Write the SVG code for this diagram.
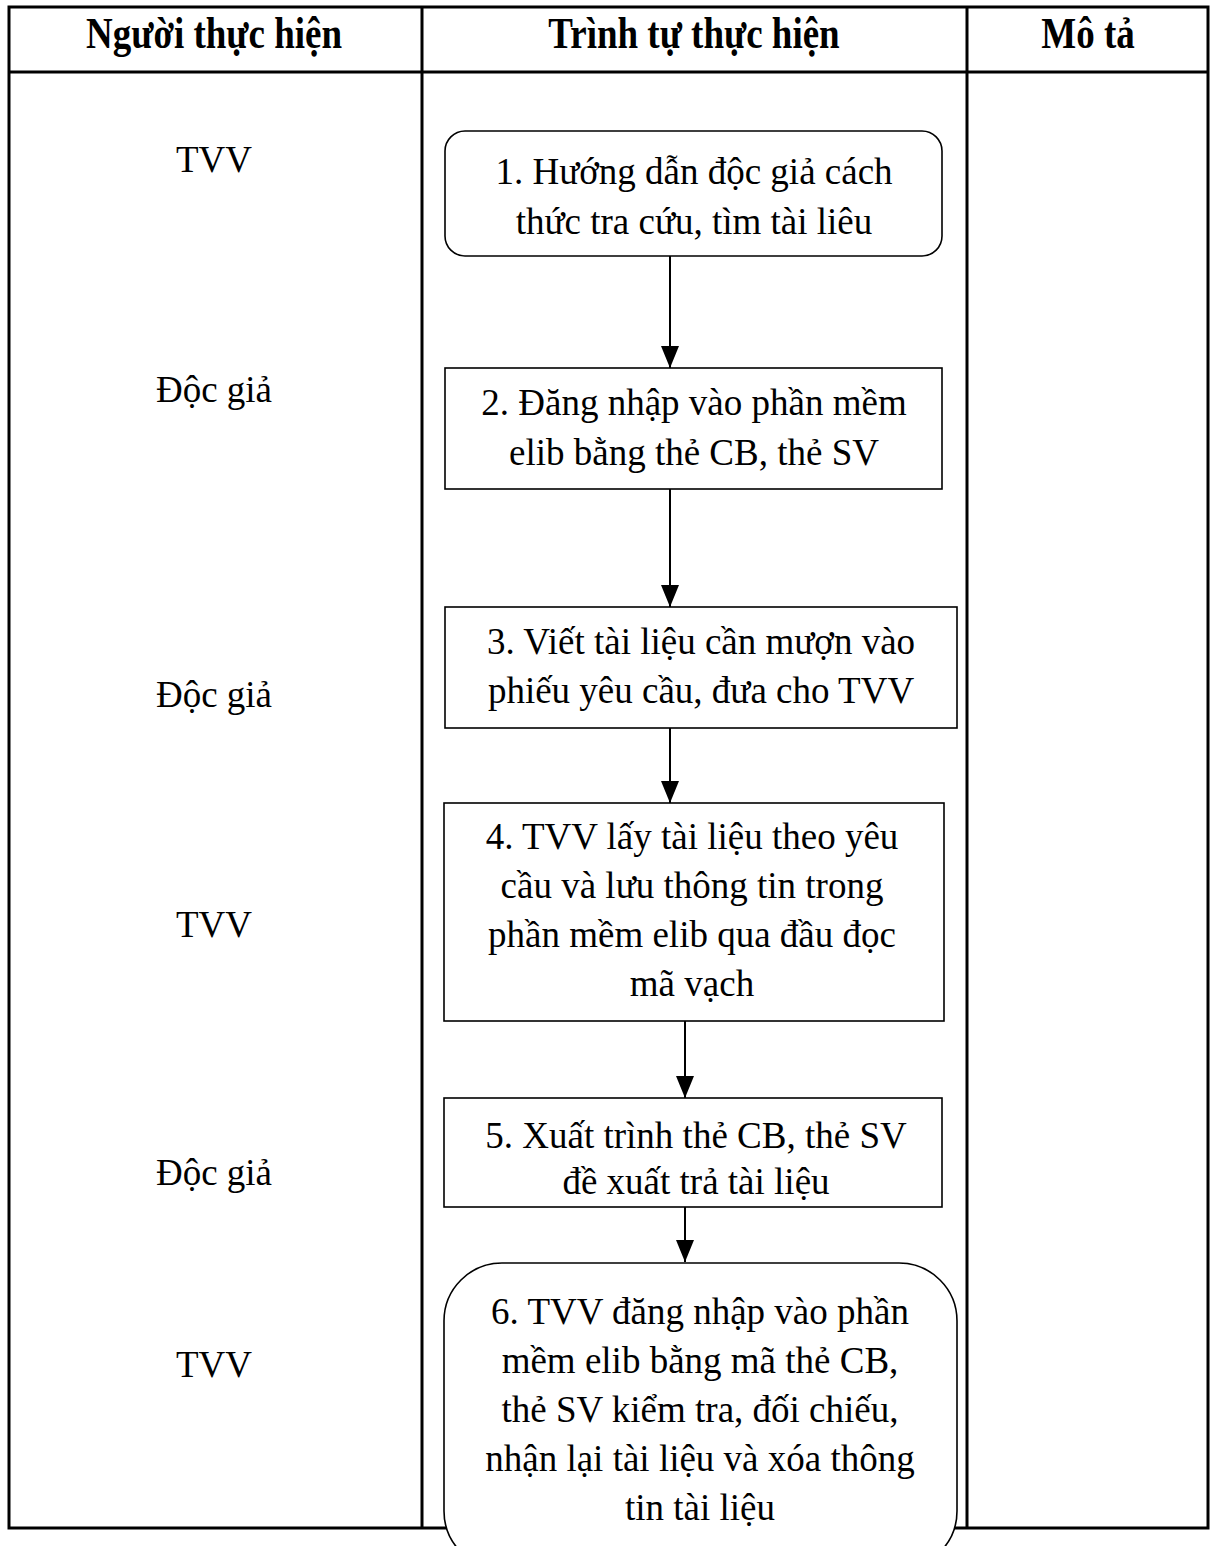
<svg xmlns="http://www.w3.org/2000/svg" width="1218" height="1546" viewBox="0 0 1218 1546">
<defs>
<style>
.t{font-family:"Liberation Serif","Times New Roman",serif;font-size:37px;fill:#000;text-anchor:middle}
.h{font-family:"Liberation Serif","Times New Roman",serif;font-size:37px;font-weight:bold;fill:#000;text-anchor:middle}
.grid{stroke:#000;stroke-width:3;fill:none}
.box{fill:#fff;stroke:#000;stroke-width:1.6}
.conn{stroke:#000;stroke-width:2;fill:none}
</style>
<marker id="ah" markerUnits="userSpaceOnUse" markerWidth="22" markerHeight="18" refX="22" refY="9" orient="auto" viewBox="0 0 22 18">
<path d="M0,0 L22,9 L0,18 Z" fill="#000"/>
</marker>
</defs>
<rect width="1218" height="1546" fill="#fff"/>
<g id="table">
<rect class="grid" x="9" y="7" width="1199" height="1521"/>
<line class="grid" x1="9" y1="72" x2="1208" y2="72"/>
<line class="grid" x1="422" y1="7" x2="422" y2="1528"/>
<line class="grid" x1="967" y1="7" x2="967" y2="1528"/>
<text class="h" transform="translate(214,48) scale(1,1.2)">Người thực hiện</text>
<text class="h" transform="translate(694,48) scale(1,1.2)">Trình tự thực hiện</text>
<text class="h" transform="translate(1088,48) scale(1,1.2)">Mô tả</text>
</g>
<g id="actors">
<text class="t" x="214" y="172">TVV</text>
<text class="t" x="214" y="402">Độc giả</text>
<text class="t" x="214" y="707">Độc giả</text>
<text class="t" x="214" y="937">TVV</text>
<text class="t" x="214" y="1185">Độc giả</text>
<text class="t" x="214" y="1377">TVV</text>
</g>
<g id="connectors">
<line class="conn" x1="670" y1="256" x2="670" y2="368" marker-end="url(#ah)"/>
<line class="conn" x1="670" y1="489" x2="670" y2="607" marker-end="url(#ah)"/>
<line class="conn" x1="670" y1="728" x2="670" y2="803" marker-end="url(#ah)"/>
<line class="conn" x1="685" y1="1021" x2="685" y2="1098" marker-end="url(#ah)"/>
<line class="conn" x1="685" y1="1207" x2="685" y2="1262" marker-end="url(#ah)"/>
</g>
<g id="step1">
<rect class="box" x="445" y="131" width="497" height="125" rx="20"/>
<text class="t" x="694" y="184">1. Hướng dẫn độc giả cách</text>
<text class="t" x="694" y="234">thức tra cứu, tìm tài liêu</text>
</g>
<g id="step2">
<rect class="box" x="445" y="368" width="497" height="121"/>
<text class="t" x="694" y="415">2. Đăng nhập vào phần mềm</text>
<text class="t" x="694" y="465">elib bằng thẻ CB, thẻ SV</text>
</g>
<g id="step3">
<rect class="box" x="445" y="607" width="512" height="121"/>
<text class="t" x="701" y="654">3. Viết tài liệu cần mượn vào</text>
<text class="t" x="701" y="703">phiếu yêu cầu, đưa cho TVV</text>
</g>
<g id="step4">
<rect class="box" x="444" y="803" width="500" height="218"/>
<text class="t" x="692" y="849">4. TVV lấy tài liệu theo yêu</text>
<text class="t" x="692" y="898">cầu và lưu thông tin trong</text>
<text class="t" x="692" y="947">phần mềm elib qua đầu đọc</text>
<text class="t" x="692" y="996">mã vạch</text>
</g>
<g id="step5">
<rect class="box" x="444" y="1098" width="498" height="109"/>
<text class="t" x="696" y="1148">5. Xuất trình thẻ CB, thẻ SV</text>
<text class="t" x="696" y="1194">đề xuất trả tài liệu</text>
</g>
<g id="step6">
<rect class="box" x="444" y="1263" width="513" height="306" rx="58"/>
<text class="t" x="700" y="1324">6. TVV đăng nhập vào phần</text>
<text class="t" x="700" y="1373">mềm elib bằng mã thẻ CB,</text>
<text class="t" x="700" y="1422">thẻ SV kiểm tra, đối chiếu,</text>
<text class="t" x="700" y="1471">nhận lại tài liệu và xóa thông</text>
<text class="t" x="700" y="1520">tin tài liệu</text>
</g>
</svg>
